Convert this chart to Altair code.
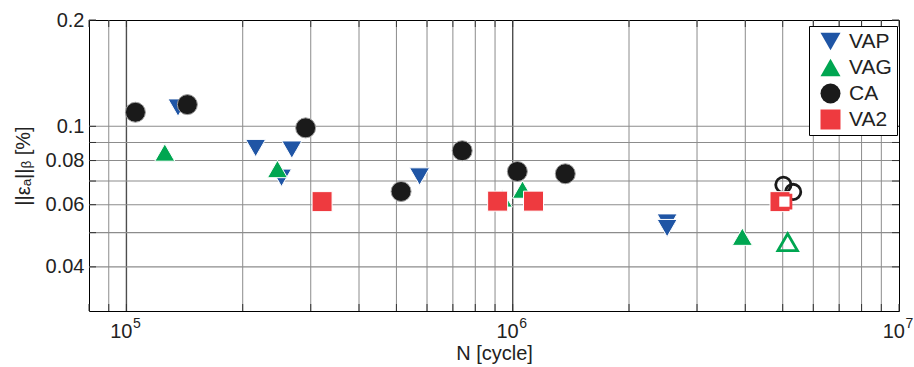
import altair as alt
import pandas as pd

# Cycles to failure N and strain norm ||eps_a||_beta [%] per loading type
vap_n = [1.36e5, 2.16e5, 2.68e5, 2.52e5, 5.74e5, 2.51e6, 2.51e6]
vap_v = [0.113, 0.0868, 0.0859, 0.0715, 0.0721, 0.0534, 0.0515]

vag_n = [1.257e5, 2.46e5, 9.4e5, 1.06e6, 3.93e6]
vag_v = [0.0843, 0.0757, 0.0625, 0.0662, 0.0487]
vag_runout_n = [5.15e6]
vag_runout_v = [0.047]

ca_n = [1.055e5, 1.438e5, 2.91e5, 5.14e5, 7.4e5, 1.028e6, 1.368e6]
ca_v = [0.1096, 0.1152, 0.099, 0.0654, 0.0853, 0.0745, 0.0734]
ca_runout_n = [5.02e6, 5.32e6]
ca_runout_v = [0.0683, 0.0652]

va2_n = [3.21e5, 9.14e5, 1.132e6, 4.92e6]
va2_v = [0.0612, 0.0614, 0.0614, 0.0612]
va2_runout_n = [5.05e6]
va2_runout_v = [0.0612]

series = ["VAP", "VAG", "CA", "VA2"]
colors = ["#1f55a5", "#00a651", "#1a1a1a", "#ee3a3f"]
shapes = ["triangle-down", "triangle-up", "circle", "square"]
sizes = [400, 400, 260, 256]

x_minor = [9e4, 2e5, 3e5, 4e5, 5e5, 6e5, 7e5, 8e5, 9e5,
           2e6, 3e6, 4e6, 5e6, 6e6, 7e6, 8e6, 9e6]
x_decades = [1e5, 1e6]
x_ticks = [8e4, 9e4, 1e5, 2e5, 3e5, 4e5, 5e5, 6e5, 7e5, 8e5, 9e5,
           1e6, 2e6, 3e6, 4e6, 5e6, 6e6, 7e6, 8e6, 9e6, 1e7]
x_labels = [1e5, 1e6, 1e7]
x_label_base = ["10", "10", "10"]
x_label_exp = ["5", "6", "7"]
y_grid = [0.04, 0.05, 0.06, 0.07, 0.08, 0.09, 0.1]
y_ticks = [0.04, 0.05, 0.06, 0.07, 0.08, 0.09, 0.1, 0.2]
y_labels = [0.04, 0.06, 0.08, 0.1, 0.2]

FONT = "Liberation Sans"
TEXT = "#222222"
GRID = "#8c8c8c"

failed = {
    "VAP": (vap_n, vap_v),
    "VAG": (vag_n, vag_v),
    "CA": (ca_n, ca_v),
    "VA2": (va2_n, va2_v),
}
runout = {
    "VAG": (vag_runout_n, vag_runout_v),
    "CA": (ca_runout_n, ca_runout_v),
    "VA2": (va2_runout_n, va2_runout_v),
}

x_scale = alt.Scale(type="log", domain=[8e4, 1e7], nice=False)
y_scale = alt.Scale(type="log", domain=[0.03, 0.2], nice=False)

# x tick labels are drawn as text marks (base + raised exponent)
x_axis = alt.Axis(
    values=x_labels,
    labels=False,
    titleY=48.5,
    titleBaseline="alphabetic",
)
y_axis = alt.Axis(
    values=y_labels,
    format="~g",
    labelPadding=5,
    titlePadding=12,
)

X = alt.X("N:Q", scale=x_scale, axis=x_axis, title="N [cycle]")
Y = alt.Y("value:Q", scale=y_scale, axis=y_axis, title="||εₐ||ᵦ [%]")

legend = alt.Legend(
    title=None,
    orient="none",
    legendX=720,
    legendY=6,
    strokeColor="black",
    fillColor="white",
    padding=5,
    rowPadding=4,
    symbolOffset=6,
    labelFont=FONT,
    labelFontSize=21,
    labelColor=TEXT,
    labelOffset=8,
    symbolStrokeWidth=0,
)

fill_enc = alt.Fill("series:N", scale=alt.Scale(domain=series, range=colors), legend=legend)
shape_enc = alt.Shape("series:N", scale=alt.Scale(domain=series, range=shapes), legend=legend)
size_enc = alt.Size("series:N", scale=alt.Scale(domain=series, range=sizes), legend=legend)

layers = []

# grid: light lines, darker decade lines
gx_minor = pd.DataFrame({"N": x_minor})
gx_major = pd.DataFrame({"N": x_decades})
gy = pd.DataFrame({"value": y_grid})
layers.append(alt.Chart(gx_minor).mark_rule(color=GRID, strokeWidth=1).encode(x=X))
layers.append(alt.Chart(gx_major).mark_rule(color="#4d4d4d", strokeWidth=1.4).encode(x=X))
layers.append(alt.Chart(gy).mark_rule(color=GRID, strokeWidth=1.1).encode(y=Y))

# short inward ticks on all four sides
tx = pd.DataFrame({"N": x_ticks})
ty = pd.DataFrame({"value": y_ticks})
tick = dict(color="#333333", strokeWidth=1)
layers.append(alt.Chart(tx).mark_rule(**tick).encode(x=X, y=alt.value(291), y2=alt.value(284)))
layers.append(alt.Chart(tx).mark_rule(**tick).encode(x=X, y=alt.value(0), y2=alt.value(7)))
layers.append(alt.Chart(ty).mark_rule(**tick).encode(y=Y, x=alt.value(0), x2=alt.value(7)))
layers.append(alt.Chart(ty).mark_rule(**tick).encode(y=Y, x=alt.value(810), x2=alt.value(803)))

# decade labels 10^k below the x axis
lab = pd.DataFrame({"N": x_labels, "base": x_label_base, "exp": x_label_exp})
layers.append(
    alt.Chart(lab)
    .mark_text(font=FONT, fontSize=20, color=TEXT, align="right", baseline="alphabetic", dx=6)
    .encode(x=X, y=alt.value(318), text="base:N")
)
layers.append(
    alt.Chart(lab)
    .mark_text(font=FONT, fontSize=14, color=TEXT, align="left", baseline="alphabetic", dx=6.5)
    .encode(x=X, y=alt.value(308), text="exp:N")
)

for i, name in enumerate(series):
    n, v = failed[name]
    df = pd.DataFrame({"series": name, "N": n, "value": v})
    edge = "#a0a0a0" if shapes[i] == "circle" else "white"
    layers.append(
        alt.Chart(df)
        .mark_point(filled=True, opacity=1, stroke=edge, strokeWidth=1)
        .encode(x=X, y=Y, fill=fill_enc, shape=shape_enc, size=size_enc)
    )
    if name in runout:
        rn, rv = runout[name]
        rdf = pd.DataFrame({"series": name, "N": rn, "value": rv})
        hollow_size = {"triangle-up": 380, "circle": 235, "square": 170}[shapes[i]]
        hollow_fill = "white" if shapes[i] == "square" else "transparent"
        layers.append(
            alt.Chart(rdf)
            .mark_point(filled=True, opacity=1, shape=shapes[i], size=hollow_size,
                        fill=hollow_fill, stroke=colors[i], strokeWidth=2.8)
            .encode(x=X, y=Y)
        )

chart = (
    alt.layer(*layers)
    .properties(
        width=810,
        height=291,
        autosize=alt.AutoSizeParams(type="none"),
        padding={"left": 89, "top": 20, "right": 15, "bottom": 56},
        background="white",
    )
    .configure_view(stroke="black", strokeWidth=1)
    .configure_axis(
        grid=False,
        ticks=False,
        domain=False,
        labelFont=FONT,
        labelFontSize=20,
        labelColor=TEXT,
        labelOverlap=False,
        labelFlush=False,
        labelBound=False,
        titleFont=FONT,
        titleFontSize=20,
        titleFontWeight="normal",
        titleColor=TEXT,
    )
)

chart.save("out.html", embed_options={"renderer": "svg", "actions": False})
